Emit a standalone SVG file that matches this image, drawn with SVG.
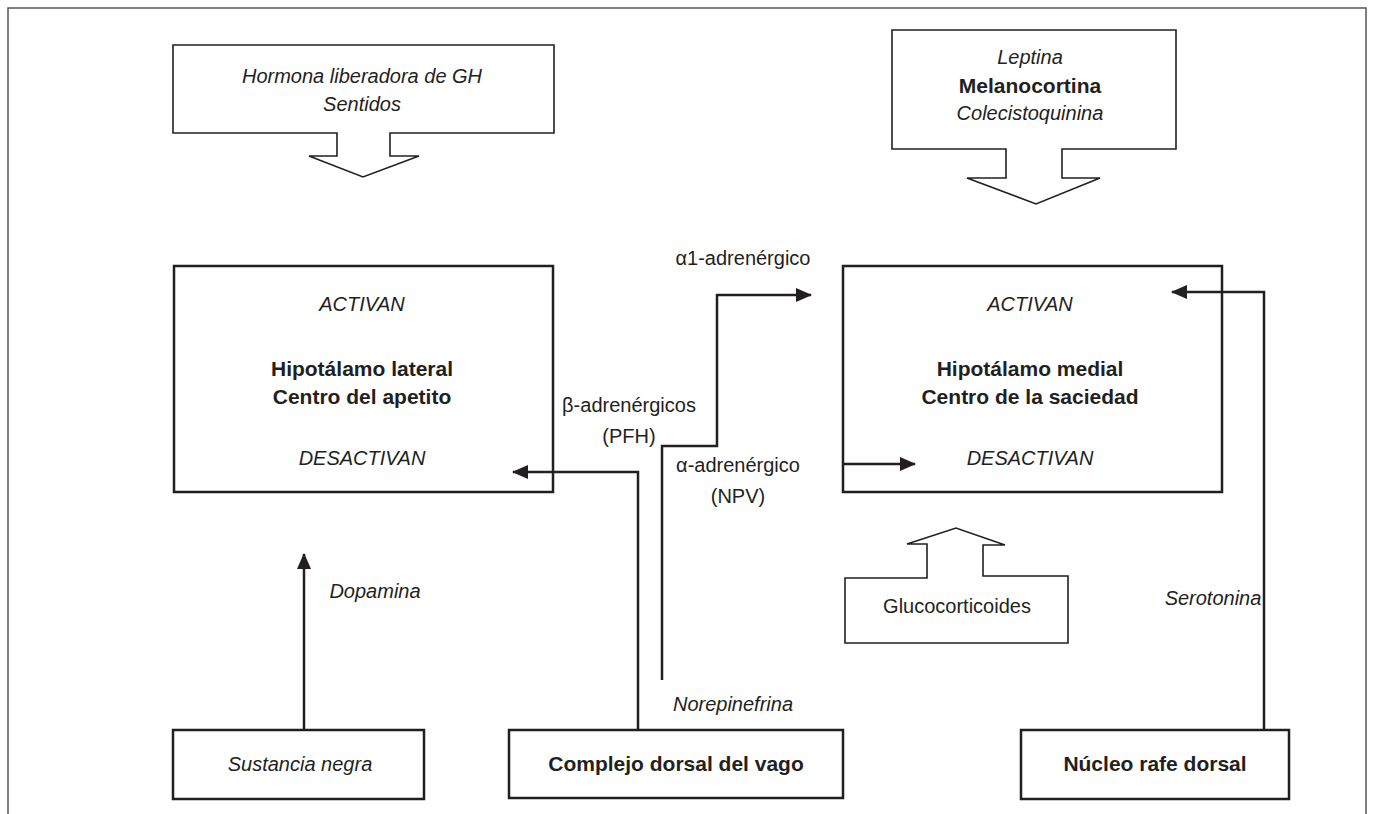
<svg xmlns="http://www.w3.org/2000/svg" width="1374" height="814" viewBox="0 0 1374 814">
<style>
text{font-family:"Liberation Sans",Arial,sans-serif;font-size:20px;fill:#231f20;text-anchor:middle}
.i{font-style:italic}
.b{font-weight:bold;font-size:21px}
.box{fill:#fff;stroke:#231f20;stroke-width:2.5}
.call{fill:#fff;stroke:#231f20;stroke-width:1.6;stroke-linejoin:miter}
.conn{fill:none;stroke:#231f20;stroke-width:2.5}
</style>
<defs>
<marker id="ah" markerUnits="userSpaceOnUse" markerWidth="16" markerHeight="14" refX="15" refY="7" orient="auto">
<path d="M0,0 L16,7 L0,14 Z" fill="#231f20"/>
</marker>
</defs>
<rect width="1374" height="814" fill="#fff"/>
<path d="M8,814 V8 H1366 V814" fill="none" stroke="#555" stroke-width="1.5"/>

<g id="callout-gh">
<path class="call" d="M173,45 H554 V133 H390 V156 H419 L363,177 L309,156 H337 V133 H173 Z"/>
<text class="i" x="362" y="83">Hormona liberadora de GH</text>
<text class="i" x="362" y="111">Sentidos</text>
</g>

<g id="callout-leptina">
<path class="call" d="M892,30 H1176 V149 H1062 V178 H1100 L1036,204 L967,178 H1006 V149 H892 Z"/>
<text class="i" x="1030" y="64">Leptina</text>
<text class="b" x="1030" y="93">Melanocortina</text>
<text class="i" x="1030" y="120">Colecistoquinina</text>
</g>

<g id="hipotalamo-lateral">
<rect class="box" x="174" y="266" width="379" height="226"/>
<text class="i" x="362" y="311">ACTIVAN</text>
<text class="b" x="362" y="376">Hipotálamo lateral</text>
<text class="b" x="362" y="404">Centro del apetito</text>
<text class="i" x="362" y="465">DESACTIVAN</text>
</g>

<g id="hipotalamo-medial">
<rect class="box" x="843" y="266" width="379" height="226"/>
<text class="i" x="1030" y="311">ACTIVAN</text>
<text class="b" x="1030" y="376">Hipotálamo medial</text>
<text class="b" x="1030" y="404">Centro de la saciedad</text>
<text class="i" x="1030" y="465">DESACTIVAN</text>
</g>

<g id="callout-glucocorticoides">
<path class="call" d="M845,578 H927 V544 H907 L956,528 L1005,545 H983 V576 H1068 V643 H845 Z"/>
<text x="957" y="613">Glucocorticoides</text>
</g>

<g id="sustancia-negra">
<rect class="box" x="173" y="730" width="251" height="69"/>
<text class="i" x="300" y="771">Sustancia negra</text>
</g>

<g id="complejo-dorsal">
<rect class="box" x="509" y="730" width="334" height="68"/>
<text class="b" x="676" y="771">Complejo dorsal del vago</text>
</g>

<g id="nucleo-rafe">
<rect class="box" x="1021" y="730" width="268" height="69"/>
<text class="b" x="1155" y="771">Núcleo rafe dorsal</text>
</g>

<g id="connectors">
<path class="conn" d="M304,730 V554" marker-end="url(#ah)"/>
<path class="conn" d="M638,730 V472 H513" marker-end="url(#ah)"/>
<path class="conn" d="M662,680 V446 H717 V295 H811" marker-end="url(#ah)"/>
<path class="conn" d="M843,464 H915" marker-end="url(#ah)"/>
<path class="conn" d="M1264,730 V292 H1172" marker-end="url(#ah)"/>
</g>

<g id="labels">
<text class="i" x="375" y="598">Dopamina</text>
<text class="i" x="733" y="711">Norepinefrina</text>
<text x="629" y="412">β-adrenérgicos</text>
<text x="629" y="443">(PFH)</text>
<text x="743" y="265">α1-adrenérgico</text>
<text x="738" y="472">α-adrenérgico</text>
<text x="738" y="503">(NPV)</text>
<text class="i" x="1213" y="605">Serotonina</text>
</g>
</svg>
